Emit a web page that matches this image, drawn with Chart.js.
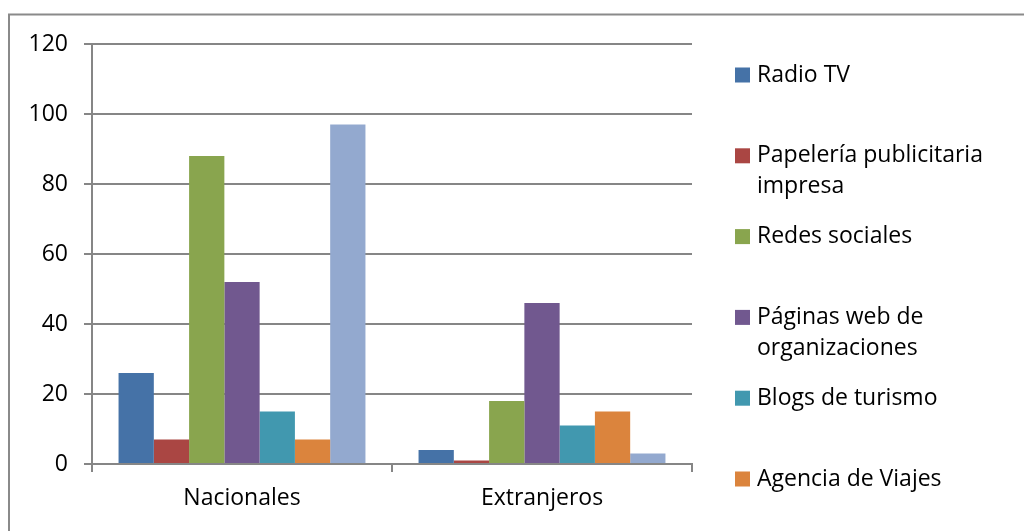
<!DOCTYPE html>
<html>
<head>
<meta charset="utf-8">
<script src="https://cdn.jsdelivr.net/npm/chart.js@4/dist/chart.umd.min.js"></script>
<style>
  html, body { margin: 0; padding: 0; background: #fff; }
  #wrap { position: relative; width: 1024px; height: 531px; }
</style>
</head>
<body>
<div id="wrap"><canvas id="c" width="1024" height="531"></canvas></div>
<script>
// Categories and series values
const categories = ['Nacionales', 'Extranjeros'];
const seriesNames = [
  ['Radio TV'],
  ['Papelería publicitaria', 'impresa'],
  ['Redes sociales'],
  ['Páginas web de', 'organizaciones'],
  ['Blogs de turismo'],
  ['Agencia de Viajes'],
  []
];
const radioTV       = [26, 4];
const papeleria     = [7, 1];
const redesSociales = [88, 18];
const paginasWeb    = [52, 46];
const blogsTurismo  = [15, 11];
const agenciaViajes = [7, 15];
const serie7        = [97, 3];
const yTicks = [0, 20, 40, 60, 80, 100, 120];

const seriesValues = [radioTV, papeleria, redesSociales, paginasWeb, blogsTurismo, agenciaViajes, serie7];
const seriesColors = ['#4572A7', '#AA4643', '#89A54E', '#71588F', '#4198AF', '#DB843D', '#93A9CF'];

const FONT = '"Open Sans", Lato, sans-serif';
const FONT_SIZE = 23;
const GRID = '#868686';

// Outer frame of the chart
const framePlugin = {
  id: 'frame',
  beforeDraw(chart) {
    const ctx = chart.ctx;
    ctx.save();
    ctx.strokeStyle = '#8a8a8a';
    ctx.lineWidth = 2;
    ctx.beginPath();
    ctx.moveTo(9, chart.height + 2);
    ctx.lineTo(9, 14.5);
    ctx.lineTo(chart.width + 2, 14.5);
    ctx.stroke();
    ctx.restore();
  }
};

// Legend on the right, with wrapped names
const sideLegend = {
  id: 'sideLegend',
  afterDraw(chart) {
    const ctx = chart.ctx;
    const x0 = 735, box = 15, textX = 757, top = 75, step = 80.8, lineH = 31;
    ctx.save();
    ctx.font = FONT_SIZE + 'px ' + FONT;
    ctx.textBaseline = 'middle';
    chart.data.datasets.forEach((ds, i) => {
      const lines = ds.legendLines;
      if (!lines || !lines.length) return;
      const y = top + i * step;
      ctx.fillStyle = ds.backgroundColor;
      ctx.fillRect(x0, y - box / 2, box, box);
      ctx.fillStyle = '#000';
      lines.forEach((t, k) => ctx.fillText(t, textX, y + k * lineH));
    });
    ctx.restore();
  }
};

new Chart(document.getElementById('c'), {
  type: 'bar',
  data: {
    labels: categories,
    datasets: seriesValues.map((vals, i) => ({
      label: seriesNames[i].join(' '),
      legendLines: seriesNames[i],
      data: vals,
      backgroundColor: seriesColors[i],
      borderWidth: 0,
      categoryPercentage: 0.823,
      barPercentage: 1
    }))
  },
  options: {
    responsive: false,
    animation: false,
    layout: { padding: { left: 0, right: 332, top: 44, bottom: 0 } },
    plugins: { legend: { display: false }, tooltip: { enabled: false } },
    scales: {
      x: {
        grid: { display: true, drawOnChartArea: false, offset: true, color: GRID, lineWidth: 2, tickLength: 8 },
        border: { display: true, color: GRID, width: 2 },
        ticks: { font: { family: FONT, size: FONT_SIZE }, color: '#000', padding: 13 },
        afterFit(s) { s.height = 67; }
      },
      y: {
        min: 0, max: 120,
        afterBuildTicks(s) { s.ticks = yTicks.map(v => ({ value: v })); },
        grid: { color: GRID, lineWidth: 2, tickLength: 8 },
        border: { display: true, color: GRID, width: 2 },
        ticks: { font: { family: FONT, size: FONT_SIZE }, color: '#000', padding: 16 },
        afterFit(s) { s.width = 92; }
      }
    }
  },
  plugins: [framePlugin, sideLegend]
});
</script>
</body>
</html>
